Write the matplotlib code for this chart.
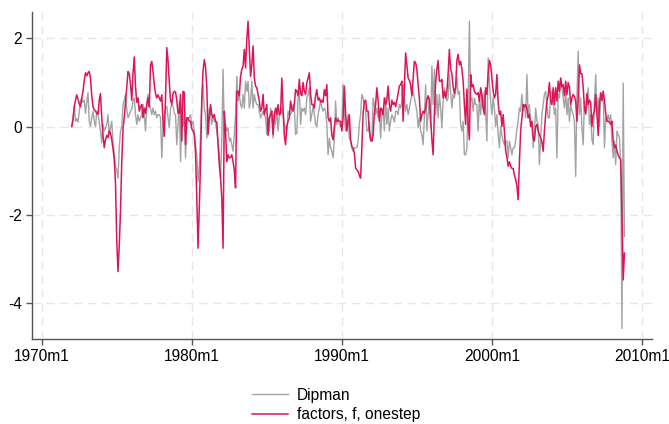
import numpy as np
import matplotlib
matplotlib.use("Agg")
import matplotlib.pyplot as plt

plt.rcParams["font.family"] = ["Liberation Sans", "DejaVu Sans"]
plt.rcParams["axes.unicode_minus"] = False

# monthly series, 1972m1 .. 2008m10 (one row per year)
start_year = 1972
dipman = [
    0.0, 0.2, 0.46, 0.12, 0.18, 0.1, 0.35, 0.58, 0.65, 0.55, 0.6, 0.3,
    0.55, 0.77, 0.12, 0.0, 0.2, 0.35, 0.12, 0.0, 0.35, 0.27, 0.1, -0.1,
    -0.37, 0.05, -0.1, -0.03, 0.05, 0.27, -0.18, -0.03, 0.12, -0.35, -0.6, -0.9,
    -1.0, -1.17, -0.48, -0.1, 0.0, 0.5, 0.6, 0.73, 0.4, 0.2, 0.27, 0.35,
    0.4, 0.58, 0.65, 0.27, 0.05, 0.27, 0.12, 0.2, 0.27, 0.5, 0.27, -0.1,
    0.5, 0.73, 0.5, 0.42, 0.27, 0.42, 0.27, 0.35, 0.2, 0.27, 0.27, 0.2,
    -0.71, 0.0, 0.27, 0.42, 0.46, 0.2, -0.03, 0.42, 0.5, 0.46, 0.3, 0.27,
    -0.41, 0.05, 0.58, -0.79, 0.27, 0.0, 0.27, -0.71, 0.05, 0.2, 0.2, 0.27,
    0.05, 0.12, -0.1, -0.4, -0.64, -1.25, -0.9, -0.2, 0.5, 0.95, 0.42, 0.27,
    -0.26, 0.05, 0.42, 0.27, 0.05, 0.27, 0.12, 0.1, -0.1, -0.33, -0.64, -1.17,
    -0.3, 1.3, -0.1, 0.05, -0.1, -0.03, -0.33, -0.26, -0.41, -0.56, -0.18, 0.27,
    1.14, 0.58, 0.73, 0.5, 0.42, 0.73, 0.42, 1.03, 0.8, 1.03, 0.42, 0.58,
    1.03, 0.42, 0.73, 0.58, 0.5, 0.5, 0.35, 0.2, 0.27, 0.35, 0.27, 0.2,
    -0.18, 0.2, -0.1, 0.42, 0.27, -0.26, 0.3, 0.05, 0.42, -0.1, 0.27, 0.27,
    0.42, 0.27, 0.05, -0.03, -0.1, 0.35, 0.27, 0.27, 0.35, 0.5, 0.42, -0.18,
    -0.15, 0.65, 0.8, 0.05, 0.42, 0.35, 0.42, 0.27, 0.65, 0.73, 0.88, 0.12,
    0.27, 0.46, 0.3, 0.05, 0.0, 0.27, 0.42, 0.58, 0.42, 0.35, 0.42, 0.35,
    0.05, -0.64, -0.26, -0.48, -0.56, -0.71, -0.3, 0.58, 0.05, 0.2, 0.05, 0.0,
    0.05, 0.95, 0.27, -0.1, 0.05, 0.27, -0.26, -0.33, -0.48, -0.56, -0.48, -0.48,
    -0.48, -0.33, 0.05, 0.27, 0.73, 0.65, 0.5, 0.35, -0.1, -0.1, 0.1, -0.33,
    -0.33, 0.65, 0.5, 0.27, 0.42, 0.2, 0.35, -0.26, 0.27, 0.42, -0.1, 0.65,
    0.05, 0.42, -0.1, 0.12, 0.27, 0.2, 0.1, 0.35, 0.35, 0.27, 0.5, 0.42,
    0.58, 0.95, 0.65, 0.35, 0.5, 0.27, 0.42, 0.58, 0.73, 0.8, 0.65, 0.5,
    0.35, -0.03, 0.2, -0.1, -0.18, -0.41, 0.2, 0.95, -0.1, 0.27, 0.65, 0.0,
    1.37, 0.5, 1.3, 0.27, 0.73, 0.2, 0.73, 0.42, -0.03, 0.58, 0.88, 0.73,
    0.58, 0.65, 1.18, 0.8, 0.42, 0.73, 0.65, 0.8, 1.1, 0.73, 0.8, 0.05,
    -0.1, 0.12, -0.64, -0.64, -0.5, 0.58, 2.39, 0.58, 0.65, 0.35, 0.65, 0.5,
    0.5, -0.1, 0.65, 0.27, 0.73, 0.42, 0.8, 0.35, -0.33, 1.56, 1.0, 0.58,
    0.27, 0.65, 0.42, 0.0, 0.27, -0.18, -0.48, 0.0, -0.2, -0.33, -0.41, -0.33,
    -0.33, -0.71, -0.33, -0.48, -0.64, -0.48, -0.48, -0.33, -0.05, 0.12, 0.42, 0.35,
    0.73, 0.35, 0.5, 0.2, 1.18, 0.2, 0.5, 0.05, 0.12, -0.48, -0.1, 0.42,
    0.12, 0.05, -0.86, -0.26, 0.27, 0.5, 0.73, 0.8, 0.5, 0.2, 0.2, 0.73,
    0.8, 0.65, 0.27, 0.42, -0.71, 0.73, 0.65, 1.1, 0.88, 0.65, 0.42, 0.8,
    0.27, 0.65, 0.12, 0.5, 0.35, 0.27, 0.12, -1.13, 0.65, 1.71, 0.27, 0.65,
    -0.03, -0.41, 0.58, 0.27, 0.42, 0.88, 0.05, 0.27, -0.3, -0.41, 0.6, 1.18,
    0.27, 0.65, 0.0, 0.65, 0.58, 0.8, -0.48, 0.2, 0.12, 0.27, 0.12, 0.27,
    -0.33, -0.71, -0.33, -0.86, -0.1, -0.18, -0.26, -0.79, -4.58, 0.99, -2.49,
]
onestep = [
    0.0, 0.15, 0.45, 0.6, 0.72, 0.62, 0.52, 0.45, 0.65, 0.8, 1.05, 1.22,
    1.15, 1.22, 1.25, 1.1, 0.7, 0.45, 0.38, 0.35, 0.3, 0.28, 0.6, 0.75,
    0.2, -0.2, -0.48, -0.3, -0.2, -0.25, -0.1, -0.15, -0.3, -0.5, -0.75, -1.3,
    -2.6, -3.29, -2.7, -1.9, -0.8, -0.05, 0.2, 0.55, 0.9, 1.25, 1.2, 0.95,
    0.6, 1.2, 1.58, 0.9, 0.55, 0.65, 0.35, 0.45, 0.5, 0.2, 0.42, 0.3,
    0.5, 0.65, 0.45, 1.4, 1.48, 1.25, 0.95, 0.75, 0.65, 0.72, 0.65, 0.58,
    0.72, 0.1, -0.22, 0.65, 1.79, 1.5, 1.0, 0.6, 0.5, 0.75, 0.8, 0.78,
    0.6, 0.3, 0.3, 0.73, -0.33, 0.8, 0.78, -0.41, 0.2, 0.2, 0.12, 0.12,
    -0.05, -0.1, -0.2, -0.6, -1.62, -2.76, -1.85, -0.79, 0.65, 1.26, 1.52, 1.35,
    0.9, -0.18, 0.2, 0.5, 0.27, 0.2, 0.27, 0.12, 0.1, -0.41, -0.86, -1.17,
    -1.62, -2.76, 0.35, -0.1, -0.8, -0.64, -0.71, -0.7, -0.64, -0.79, -1.0, -1.39,
    0.8, 0.8, 0.7, 1.14, 1.3, 1.37, 1.75, 1.33, 1.98, 2.39, 1.79, 1.14,
    1.4, 1.83, 1.1, 0.92, 0.88, 0.73, 0.58, 0.35, 0.42, 0.73, 0.27, 0.39,
    0.5, -0.2, 0.2, 0.27, 0.35, -0.18, 0.27, 0.42, 0.27, 0.5, 0.27, 0.3,
    1.1, 0.4, -0.2, -0.41, 0.0, 0.12, 0.2, 0.58, 0.4, 0.35, 0.5, 0.84,
    0.8, 0.7, 1.07, 0.75, 0.7, 1.0, 0.8, 0.73, 1.0, 1.1, 1.22, 0.73,
    0.5, 0.5, 0.42, 0.7, 0.84, 0.6, 0.65, 0.55, 0.6, 0.55, 0.84, 0.7,
    0.95, 0.2, 0.12, 0.2, -0.2, -0.3, 0.0, 0.2, 0.12, 0.15, 0.12, 0.12,
    -0.1, 0.2, 0.92, 0.3, -0.1, 0.12, 0.27, -0.3, -0.45, -0.5, -0.6, -0.94,
    -0.98, -1.02, -1.1, -1.17, -0.48, 0.3, 0.58, 0.6, 0.35, 0.35, -0.1, -0.3,
    -0.33, -0.2, 0.3, 0.5, 0.88, 0.6, 0.12, 0.42, 0.38, 0.27, 0.65, 0.5,
    0.6, 0.92, 0.5, 0.35, 0.6, 0.5, 0.55, 0.45, 0.6, 0.75, 0.92, 0.95,
    1.03, 0.12, 0.9, 1.67, 1.4, 1.1, 1.05, 0.95, 0.7, 1.1, 1.48, 1.45,
    1.3, 0.95, 0.65, 0.12, 0.27, 0.35, 0.3, 0.42, 0.6, 0.7, 0.6, 0.2,
    -0.3, -0.64, 0.3, 1.0, 1.3, 1.5, 1.03, 1.03, 1.07, 0.65, 0.8, 0.65,
    0.8, 1.2, 1.75, 1.3, 1.2, 0.9, 0.75, 0.9, 1.5, 1.64, 1.4, 1.48,
    1.3, 1.03, 0.5, 0.05, 0.85, 0.05, -0.3, 1.18, 0.9, 0.95, 0.8, 0.75,
    0.73, 0.77, 0.57, 0.88, 0.73, 0.42, 0.27, 0.88, 0.73, 1.2, 1.5, 1.4,
    1.1, 0.8, 0.65, 0.73, 1.18, 0.55, 0.27, 0.35, 0.0, 0.27, -0.1, -0.55,
    -0.7, -0.9, -0.8, -0.9, -0.95, -0.95, -1.1, -1.2, -1.35, -1.66, -0.8, -0.1,
    0.2, 0.5, 0.45, 0.5, 0.4, 0.2, 0.27, 0.0, 0.12, -0.26, -0.33, 0.0,
    0.05, -0.1, -0.18, -0.26, -0.35, -0.56, -0.1, 0.27, 0.58, 0.7, 1.0, 0.58,
    0.5, 0.88, 0.5, 0.88, 0.58, 1.03, 0.8, 1.1, 0.9, 0.95, 0.7, 1.03,
    0.73, 1.0, 0.9, 0.5, 0.65, 0.73, 0.68, 0.58, 0.12, 0.65, 1.4, 1.2,
    1.2, 0.9, 0.4, 0.3, 0.75, 0.5, 0.6, 0.55, 0.0, 0.27, 0.35, 0.73,
    0.3, -0.2, 0.5, 0.77, 0.6, 0.8, 0.6, 0.3, 0.12, 0.12, 0.1, 0.05,
    0.12, -0.33, -0.48, -0.42, -0.55, -0.65, -0.71, -0.75, -2.0, -3.48, -2.87,
]
xtick_years = [1970, 1980, 1990, 2000, 2010]
xtick_labels = ["1970m1", "1980m1", "1990m1", "2000m1", "2010m1"]
yticks = [-4, -2, 0, 2]

t = start_year + np.arange(len(dipman)) / 12.0

fig = plt.figure(figsize=(6.69, 4.24), dpi=100)
ax = fig.add_axes([0.0478, 0.2005, 0.9268, 0.7712])

ax.plot(t, dipman, color="#a3a3a3", lw=1.0, label="Dipman")
ax.plot(t, onestep, color="#dc145a", lw=1.1, label="factors, f, onestep")

ax.set_xlim(1969.35, 2010.67)
ax.set_ylim(-4.82, 2.6)
ax.set_xticks(xtick_years)
ax.set_xticklabels(xtick_labels)
ax.set_yticks(yticks)
ax.set_yticklabels([str(v) for v in yticks])

ax.grid(True, color="#e6e6e6", ls=(0, (6, 4)), lw=1.0)
ax.set_axisbelow(True)
for s in ["top", "right"]:
    ax.spines[s].set_visible(False)
for s in ["left", "bottom"]:
    ax.spines[s].set_color("#555555")
    ax.spines[s].set_linewidth(1.0)
ax.tick_params(direction="out", length=4, width=1, color="#555555",
               labelsize=11.2, labelcolor="black", pad=3)

fig.legend(loc="upper left", bbox_to_anchor=(0.3767, 0.086), frameon=False,
           fontsize=11.2, handlelength=2.3, handletextpad=0.6,
           labelspacing=0.3, borderpad=0, borderaxespad=0)

fig.savefig("out.png", dpi=100)
